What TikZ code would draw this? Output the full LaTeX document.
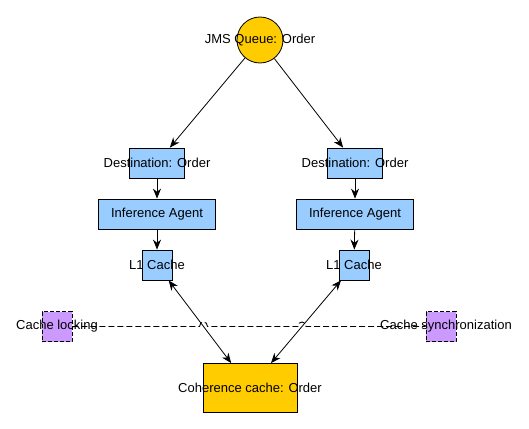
\documentclass[tikz,border=0pt]{standalone}
\usepackage{fontspec}
\setmainfont{Liberation Sans}
\usetikzlibrary{arrows.meta,intersections}
\definecolor{queuegold}{HTML}{FFCC00}
\definecolor{agentblue}{HTML}{99CCFF}
\definecolor{lockviolet}{HTML}{CC99FF}
\begin{document}
\begin{tikzpicture}[x=1pt,y=-1pt,
        every node/.style={font=\fontsize{13}{15}\selectfont},
        bluebox/.style={draw,line width=0.8pt,fill=agentblue,inner sep=0pt},
        lockbox/.style={draw,line width=0.8pt,fill=lockviolet,inner sep=0pt,
            minimum size=30pt,dash pattern=on 4pt off 2pt},
        arr/.style={-{Stealth[length=10pt,width=8pt]},line width=0.8pt},
        arrboth/.style={{Stealth[length=10pt,width=8pt]}-{Stealth[length=10pt,width=8pt]},line width=0.8pt}]
        \useasboundingbox (0,0) rectangle (529,428);
        % boxes
        \node [circle,draw,line width=0.8pt,fill=queuegold,minimum size=46pt,inner sep=0pt] (queue) at (260,40) {};
        \node [bluebox,minimum width=55pt,minimum height=30pt] (destL) at (157,163) {};
        \node [bluebox,minimum width=55pt,minimum height=30pt] (destR) at (355,163) {};
        \node [bluebox,minimum width=117pt,minimum height=30pt] (agentL) at (157,214) {};
        \node [bluebox,minimum width=117pt,minimum height=30pt] (agentR) at (355,214) {};
        \node [bluebox,minimum size=30pt] (cacheL) at (157,265) {};
        \node [bluebox,minimum size=30pt] (cacheR) at (354,265) {};
        \node [lockbox] (lock) at (57,326.5) {};
        \node [lockbox] (sync) at (441,326.5) {};
        \node [draw,line width=0.8pt,fill=queuegold,minimum width=94pt,minimum height=49pt,inner sep=0pt] (coh) at (250,388) {};
        % labels
        \node (queuetxt) at (queue) {JMS Queue: Order};
        \node (destLtxt) at (destL) {Destination: Order};
        \node (destRtxt) at (destR) {Destination: Order};
        \node (agentLtxt) at (agentL) {Inference Agent};
        \node (agentRtxt) at (agentR) {Inference Agent};
        \node (cacheLtxt) at (cacheL) {L1 Cache};
        \node (cacheRtxt) at (cacheR) {L1 Cache};
        \node (locktxt) at (lock) {Cache locking};
        \node (synctxt) at (446,326.5) {Cache synchronization};
        \node (cohtxt) at (coh) {Coherence cache: Order};
        % connectors
        \draw [arr] (queue) -- (destL);
        \draw [arr] (queue) -- (destR);
        \draw [arr] (destL) -- (agentL);
        \draw [arr] (destR) -- (agentR);
        \draw [arr] (agentL) -- (cacheL);
        \draw [arr] (agentR) -- (cacheR);
        \draw [arrboth,name path=linkL] (cacheL) -- (coh);
        \draw [arrboth,name path=linkR] (cacheR) -- (coh);
        % dashed line with hops
        \path [name path=lockline] (lock) -- (sync);
        \path [name intersections={of=lockline and linkL,by=hopL}];
        \path [name intersections={of=lockline and linkR,by=hopR}];
        \draw [line width=0.9pt,dash pattern=on 6pt off 3pt] (lock.east) -- ([xshift=-4pt]hopL)
            .. controls +(0,-6) and +(0,-6) .. ([xshift=4pt]hopL) -- ([xshift=-4pt]hopR)
            .. controls +(0,-6) and +(0,-6) .. ([xshift=4pt]hopR) -- (sync.west);
\end{tikzpicture}
\end{document}
